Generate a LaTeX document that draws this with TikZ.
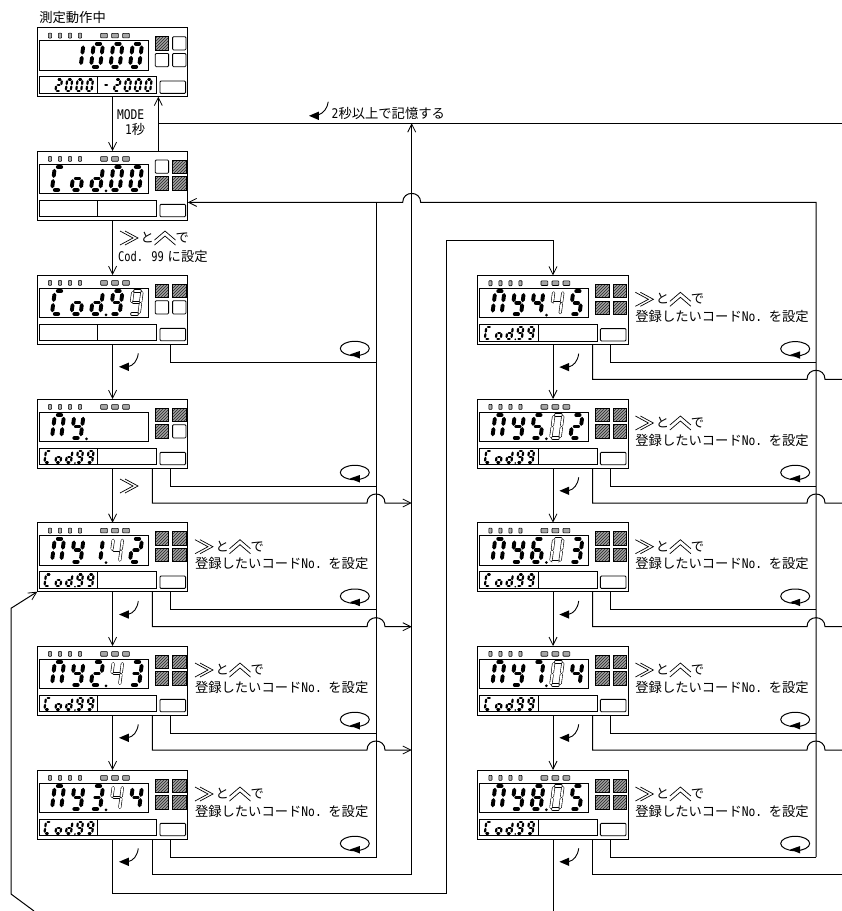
\documentclass[tikz,border=0pt]{standalone}
\usepackage{fontspec}
\usepackage{graphicx}
\setmainfont{Noto Sans CJK JP}
\newfontfamily\hwf{DejaVu Sans Mono}
\usetikzlibrary{arrows.meta,calc,patterns}
\newcommand\hw[1]{\scalebox{.85}[1]{\hwf #1}}
\tikzset{
  conn/.style={line width=1pt},
  arr/.style={conn,-{Straight Barb[length=8pt,width=8pt,line width=.8pt]}},
  panelbox/.style={draw,line width=1pt,anchor=north west,minimum width=150.5pt,minimum height=69pt,inner sep=0pt,outer sep=0pt},
  lbl/.style={anchor=base west,inner sep=0pt,outer sep=0pt,font=\fontsize{13.3}{15}\selectfont},
  frm/.style={line width=.9pt},
  hatched/.style={draw,line width=.8pt,preaction={fill=gray!75},pattern=north east lines,pattern color=black!85},
  emptysq/.style={draw,line width=.8pt,rounded corners=1pt},
  chev/.style={line width=.7pt,line join=miter},
}
% seven segments in the unit cell of a digit; \ek and \ev set how far each stops short of the corners
\def\ek{.32}\def\ev{.16}\def\em{.11}
\newcommand\sA{\draw[sg] (\ek,0)--(1-\ek,0);}
\newcommand\sB{\draw[sg] (1,\ev)--(1,.5-\em);}
\newcommand\sC{\draw[sg] (1,.5+\em)--(1,1-\ev);}
\newcommand\sD{\draw[sg] (1-\ek,1)--(\ek,1);}
\newcommand\sE{\draw[sg] (0,1-\ev)--(0,.5+\em);}
\newcommand\sF{\draw[sg] (0,.5-\em)--(0,\ev);}
\newcommand\sG{\draw[sg] (\ek,.5)--(1-\ek,.5);}
\expandafter\def\csname gl0\endcsname{A,B,C,D,E,F}
\expandafter\def\csname gl1\endcsname{B,C}
\expandafter\def\csname gl2\endcsname{A,B,G,E,D}
\expandafter\def\csname gl3\endcsname{A,B,G,C,D}
\expandafter\def\csname gl4\endcsname{F,G,B,C}
\expandafter\def\csname gl5\endcsname{A,F,G,C,D}
\expandafter\def\csname gl6\endcsname{A,F,G,C,D,E}
\expandafter\def\csname gl7\endcsname{A,B,C}
\expandafter\def\csname gl8\endcsname{A,B,C,D,E,F,G}
\expandafter\def\csname gl9\endcsname{A,B,C,D,F,G}
\expandafter\def\csname glC\endcsname{A,F,E,D}
\expandafter\def\csname glo\endcsname{C,D,E,G}
\expandafter\def\csname gld\endcsname{B,C,D,E,G}
\expandafter\def\csname gln\endcsname{A,B,C,E,F}
\expandafter\def\csname gly\endcsname{B,C,D,F,G}
\expandafter\def\csname gl-\endcsname{G}
% x y w h slant style glyph
\newcommand\dgt[7]{\begin{scope}[shift={(#1,#2)},x={(#3pt,0pt)},y={(-#5pt,-#4pt)},sg/.style={#6}]
  \edef\seglist{\csname gl#7\endcsname}
  \foreach \s in \seglist {\csname s\s\endcsname}
\end{scope}}
\tikzset{bigblk/.style={line width=3.9pt,line cap=round},bigout/.style={line width=.6pt,double=white,double distance=1.9pt,line cap=round},
  smblk/.style={line width=2.2pt,line cap=round}}
\newcommand\Mg[2]{\pgfmathsetmacro\xx{12.7+19.5*#1+3+1.9}\dgt{\xx}{16}{9.2}{23}{3}{bigblk}{#2}}
\newcommand\Og[2]{\pgfmathsetmacro\xx{12.7+19.5*#1+3+1.9}{\def\ek{.2}\def\ev{.07}\def\em{.05}\dgt{\xx}{16}{9.2}{23}{3}{bigout}{#2}}}
\newcommand\Dp[1]{\pgfmathsetmacro\xx{12.7+19.5*#1+17}\fill (\xx,39.8) circle[radius=1.5pt];}
\newcommand\Sg[2]{\pgfmathsetmacro\xx{#1+1.6+1.1}\dgt{\xx}{51.7}{5}{11.8}{1.6}{smblk}{#2}}
\newcommand\CodSub{\Sg{6}{C}\Sg{17}{o}\Sg{27.5}{d}\Sg{38}{9}\Sg{48.7}{9}\fill (37.6,64) circle[radius=.9pt];}
\newcommand\Sq[3]{\pgfmathsetmacro\xa{118+17.3*#1}\pgfmathsetmacro\ya{9+16.7*#2}
  \path[#3] (\xa,\ya) rectangle ++(13.3,13.3);}
% name x y squares(TL TR BL BR) main sub
\newcommand\pnl[9]{\begin{scope}[shift={(#2,#3)}]
  \node[panelbox] (#1) at (0,0) {};
  \coordinate (#1-t) at (75.3,0); \coordinate (#1-a) at (75.3,69);
  \coordinate (#1-u) at (121,0); \coordinate (#1-d) at (121,69);
  \coordinate (#1-b) at (115,69); \coordinate (#1-bb) at (115,104);
  \coordinate (#1-c) at (132.7,69); \coordinate (#1-cb) at (132.7,87);
  \coordinate (#1-r) at (150.5,51.4);
  \foreach \lx in {12.7,22.7,32.7,42.7} {\filldraw[fill=gray!65,line width=.6pt,rounded corners=.7pt] (\lx-1.6,5.4) rectangle ++(3.2,5);}
  \foreach \lx in {66.7,77.7,88.7} {\filldraw[fill=gray!70,line width=.6pt,rounded corners=.7pt] (\lx-3.4,5.6) rectangle ++(6.8,4.6);}
  \draw[frm] (2,13) rectangle (111,42.3);
  \draw[frm] (2,49) rectangle (119.5,65.7);
  \draw[frm] (60.3,49) -- (60.3,65.7);
  \draw[frm,rounded corners=1pt] (122.7,53.3) rectangle (148.3,65.7);
  \Sq{0}{0}{#4}\Sq{1}{0}{#5}\Sq{0}{1}{#6}\Sq{1}{1}{#7}
  #8 #9
\end{scope}}
\newcommand\dchev[2]{\draw[chev] (#1,#2-7)--(#1+13,#2)--(#1,#2+7);\draw[chev] (#1+5,#2-7)--(#1+18,#2)--(#1+5,#2+7);}
\newcommand\uchev[2]{\draw[chev] (#1,#2+2)--(#1+10.5,#2-7)--(#1+21,#2+2);\draw[chev] (#1,#2+7)--(#1+10.5,#2-2)--(#1+21,#2+7);}
\newcommand\chevline[3]{\dchev{#2}{#3}\uchev{#2+34.5}{#3}
  \node[lbl] (#1-to) at (#2+20.5,#3+4.6) {と};
  \node[lbl] (#1-de) at (#2+55.5,#3+4.6) {で};}
\newcommand\curly[1]{\begin{scope}[shift={(#1.south west)}]
  \draw[line width=.9pt] (101,9.3) .. controls (100,17) and (96,21.5) .. (91,22.6);
  \fill (81.7,22.8) -- (91.5,18.6) -- (91.5,27) -- cycle;
\end{scope}}
\newcommand\rot[1]{\begin{scope}[shift={(#1.north west)}]
  \draw[line width=1pt] (317.5,73.5) ellipse[x radius=14.5pt,y radius=7.2pt];
  \fill (312.5,79.5) -- (322.5,76) -- (322.5,83.5) -- cycle;
\end{scope}}
\newcommand\reglbl[1]{\begin{scope}[shift={(#1.north west)}]
  \chevline{#1}{157.7}{24}
  \node[lbl] (#1-reg) at (157.7,46.2) {登録したいコード\hw{No.}\hspace{6.6pt}を設定};
\end{scope}}
\begin{document}
\begin{tikzpicture}[x=1pt,y=-1pt]
\useasboundingbox (0,0) rectangle (842,911);
\fill[white] (0,0) rectangle (842,911);
\begin{scope}
\clip (0,0) rectangle (842,911);
\coordinate (busA) at (376,0);
\coordinate (busB) at (411.7,0);
\coordinate (busR) at (816,0);
\coordinate (edge) at (842,0);
\pnl{p1}{37.3}{27.7}{hatched}{emptysq}{emptysq}{emptysq}{\Mg{1}{1}\Mg{2}{0}\Mg{3}{0}\Mg{4}{0}}{\Sg{17}{2}\Sg{27.3}{0}\Sg{37.7}{0}\Sg{48}{0}\Sg{64.5}{-}\Sg{75.5}{2}\Sg{86}{0}\Sg{96.3}{0}\Sg{106.7}{0}}
\pnl{p2}{37.3}{151}{emptysq}{hatched}{hatched}{hatched}{\Mg{0}{C}\Mg{1}{o}\Mg{2}{d}\Mg{3}{0}\Mg{4}{0}\Dp{2}}{}
\pnl{p3}{37.3}{275}{hatched}{hatched}{emptysq}{emptysq}{\Mg{0}{C}\Mg{1}{o}\Mg{2}{d}\Mg{3}{9}\Og{4}{9}\Dp{2}}{}
\pnl{p4}{37.3}{399}{hatched}{hatched}{hatched}{emptysq}{\Mg{0}{n}\Mg{1}{y}\Dp{1}}{\CodSub}
\pnl{p5}{37.3}{522.7}{hatched}{hatched}{hatched}{hatched}{\Mg{0}{n}\Mg{1}{y}\Mg{2}{1}\Og{3}{4}\Mg{4}{2}\Dp{2}}{\CodSub}
\pnl{p6}{37.3}{646}{hatched}{hatched}{hatched}{hatched}{\Mg{0}{n}\Mg{1}{y}\Mg{2}{2}\Og{3}{4}\Mg{4}{3}\Dp{2}}{\CodSub}
\pnl{p7}{37.3}{770}{hatched}{hatched}{hatched}{hatched}{\Mg{0}{n}\Mg{1}{y}\Mg{2}{3}\Og{3}{4}\Mg{4}{4}\Dp{2}}{\CodSub}
\pnl{q1}{477.7}{275.3}{hatched}{hatched}{hatched}{hatched}{\Mg{0}{n}\Mg{1}{y}\Mg{2}{4}\Og{3}{4}\Mg{4}{5}\Dp{2}}{\CodSub}
\pnl{q2}{477.7}{399}{hatched}{hatched}{hatched}{hatched}{\Mg{0}{n}\Mg{1}{y}\Mg{2}{5}\Og{3}{0}\Mg{4}{2}\Dp{2}}{\CodSub}
\pnl{q3}{477.7}{522.7}{hatched}{hatched}{hatched}{hatched}{\Mg{0}{n}\Mg{1}{y}\Mg{2}{6}\Og{3}{0}\Mg{4}{3}\Dp{2}}{\CodSub}
\pnl{q4}{477.7}{646}{hatched}{hatched}{hatched}{hatched}{\Mg{0}{n}\Mg{1}{y}\Mg{2}{7}\Og{3}{0}\Mg{4}{4}\Dp{2}}{\CodSub}
\pnl{q5}{477.7}{770}{hatched}{hatched}{hatched}{hatched}{\Mg{0}{n}\Mg{1}{y}\Mg{2}{8}\Og{3}{0}\Mg{4}{5}\Dp{2}}{\CodSub}
% labels
\node[lbl] (head) at (39.3,22.3) {測定動作中};
\node[lbl] (mode) at (117,119.6) {\hw{MODE}};
\node[lbl] (sec) at (125,134.6) {\hw{1}秒};
\chevline{setA}{120}{238}
\node[lbl] (cod) at (118,261.9) {\makebox[49.7pt][l]{\scalebox{.92}[1]{\hw{Cod. 99}}}に設定};
\dchev{120}{486}
\node[lbl] (store) at (331.7,118) {\hw{2}秒以上で記憶する};
\foreach \n in {p5,p6,p7,q1,q2,q3,q4,q5} {\reglbl{\n}}
\foreach \n in {p3,p4,p5,p6,p7,q1,q2,q3,q4,q5} {\rot{\n}}
\foreach \n in {p3,p5,p6,p7,q1,q2,q3,q4,q5} {\curly{\n}}
% the loose curved arrow by the storing line
\draw[line width=.9pt] (328.3,101.7) .. controls (327.3,108) and (324,113) .. (318.5,114.8);
\fill (309,115.8) -- (318.8,111.6) -- (318.8,120) -- cycle;
% main flow
\draw[arr] (p1-a) -- (p2-t);
\draw[arr] (p2-a) -- (p3-t);
\draw[arr] (p3-a) -- (p4-t);
\draw[arr] (p4-a) -- (p5-t);
\draw[arr] (p5-a) -- (p6-t);
\draw[arr] (p6-a) -- (p7-t);
\draw[arr] (q1-a) -- (q2-t);
\draw[arr] (q2-a) -- (q3-t);
\draw[arr] (q3-a) -- (q4-t);
\draw[arr] (q4-a) -- (q5-t);
\draw[arr] (p2-u) -- (p1-d);
\coordinate (storeY) at (0,123.3);
\draw[conn] (p2-u |- storeY) -- (edge |- storeY);
\coordinate (lowR) at (446.7,893.7);
\coordinate (highR) at (446.7,240);
\draw[arr] (p7-a) |- (lowR) -- (highR) -| (q1-t);
\coordinate (q5end) at ($(q5-a |- 0,911)$);
\draw[conn] (q5-a) -- (q5end);
% left return line
\coordinate (lt) at (11,608.3);
\coordinate (lb) at (11,894);
\coordinate (lo) at (34,911);
\draw[arr] (lo) -- (lb) -- (lt) -- (p5.south west);
% buses
\draw[conn] (p3-c) -- (p3-cb) -- (p3-cb -| busA);
\draw[conn] (p4-c) -- (p4-cb) -- (p4-cb -| busA);
\draw[conn] (p5-c) -- (p5-cb) -- (p5-cb -| busA);
\draw[conn] (p6-c) -- (p6-cb) -- (p6-cb -| busA);
\draw[conn] (p7-c) -- (p7-cb) -- (p7-cb -| busA) -- (busA |- p2-r);
\foreach \n in {p4,p5,p6} {
  \draw[arr] (\n-b) |- ($(\n-bb -| busA)+(-9,0)$) .. controls ($(\n-bb -| busA)+(-9,-12)$) and ($(\n-bb -| busA)+(9,-12)$) .. ($(\n-bb -| busA)+(9,0)$) -- (\n-bb -| busB);
}
\draw[conn] (p7-b) |- (p7-bb -| busB);
\draw[arr] (p7-bb -| busB) -- (busB |- storeY);
\draw[conn] (q5-c) -- (q5-cb) -- (q5-cb -| busR);
\foreach \n in {q1,q2,q3,q4} {
  \draw[conn] (\n-c) -- (\n-cb) -- (\n-cb -| busR);
  \draw[conn] (\n-b) |- ($(\n-bb -| busR)+(-9,0)$) .. controls ($(\n-bb -| busR)+(-9,-12)$) and ($(\n-bb -| busR)+(9,-12)$) .. ($(\n-bb -| busR)+(9,0)$) -- (\n-bb -| edge);
}
\draw[conn] (q5-b) |- (q5-bb -| edge);
\draw[arr] (q5-cb -| busR) -- (busR |- p2-r) -- ($(p2-r -| busB)+(9,0)$) .. controls ($(p2-r -| busB)+(9,-12)$) and ($(p2-r -| busB)+(-9,-12)$) .. ($(p2-r -| busB)+(-9,0)$) -- (p2-r);
\end{scope}
\end{tikzpicture}
\end{document}
